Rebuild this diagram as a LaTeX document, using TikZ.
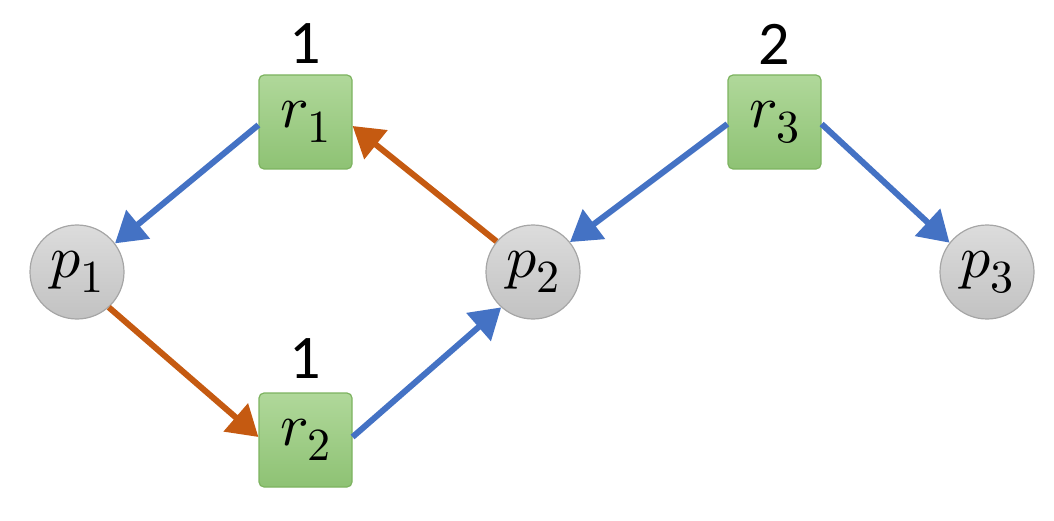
\documentclass[tikz,border=0pt]{standalone}
\usepackage{fontspec}
\usepackage{unicode-math}
\setmathfont{Latin Modern Math}
\newfontfamily\labelfont{Carlito}
\usetikzlibrary{arrows.meta}
\definecolor{myblue}{HTML}{4472C4}
\definecolor{myorange}{HTML}{C55A11}
\definecolor{boxtop}{HTML}{B0D89A}
\definecolor{boxbot}{HTML}{8EC274}
\definecolor{boxline}{HTML}{7DB360}
\definecolor{circtop}{HTML}{DCDCDC}
\definecolor{circbot}{HTML}{C2C2C2}
\definecolor{circline}{HTML}{A6A6A6}
\newcommand{\sublbl}[2]{$#1_{\mbox{\fontsize{46}{50}\selectfont$#2$}}$}
\tikzset{
  resbox/.style={draw=boxline, line width=1.2pt, rounded corners=5pt,
    top color=boxtop, bottom color=boxbot, minimum width=93pt, minimum height=94pt,
    inner sep=0pt, font=\fontsize{60}{66}\selectfont},
  procnode/.style={circle, draw=circline, line width=1.2pt, top color=circtop,
    bottom color=circbot, minimum size=94pt, inner sep=0pt,
    font=\fontsize{60}{66}\selectfont},
  cnt/.style={font=\labelfont\fontsize{62}{68}\selectfont, inner sep=0pt},
  edge/.style={line width=6pt, -{Triangle[length=30pt,width=36pt]}},
  req/.style={edge, myorange},
  asg/.style={edge, myblue}
}
\begin{document}
\begin{tikzpicture}[x=1pt,y=1pt]
\useasboundingbox (0,0) rectangle (1054,520);
\node[resbox] (r1) at (305.5,398) {\sublbl{r}{1}};
\node[resbox] (r2) at (305.5,80) {\sublbl{r}{2}};
\node[resbox] (r3) at (774.5,398) {\sublbl{r}{3}};
\node[procnode] (p1) at (77,248) {\sublbl{p}{1}};
\node[procnode] (p2) at (533,248) {\sublbl{p}{2}};
\node[procnode] (p3) at (987,248) {\sublbl{p}{3}};
\node[cnt] (c1) at (305,476) {1};
\node[cnt] (c2) at (305,161) {1};
\node[cnt] (c3) at (774,476) {2};
\draw[asg] ([yshift=-3pt]r1.west) -- (p1.37);
\draw[req] (p1.-48) -- ([yshift=3pt]r2.west);
\draw[asg] ([yshift=3pt]r2.east) -- (p2.228);
\draw[req] (p2.140) -- ([yshift=-4pt]r1.east);
\draw[asg] ([yshift=-2pt]r3.west) -- (p2.39);
\draw[asg] ([yshift=-2pt]r3.east) -- (p3.142);
\end{tikzpicture}
\end{document}
